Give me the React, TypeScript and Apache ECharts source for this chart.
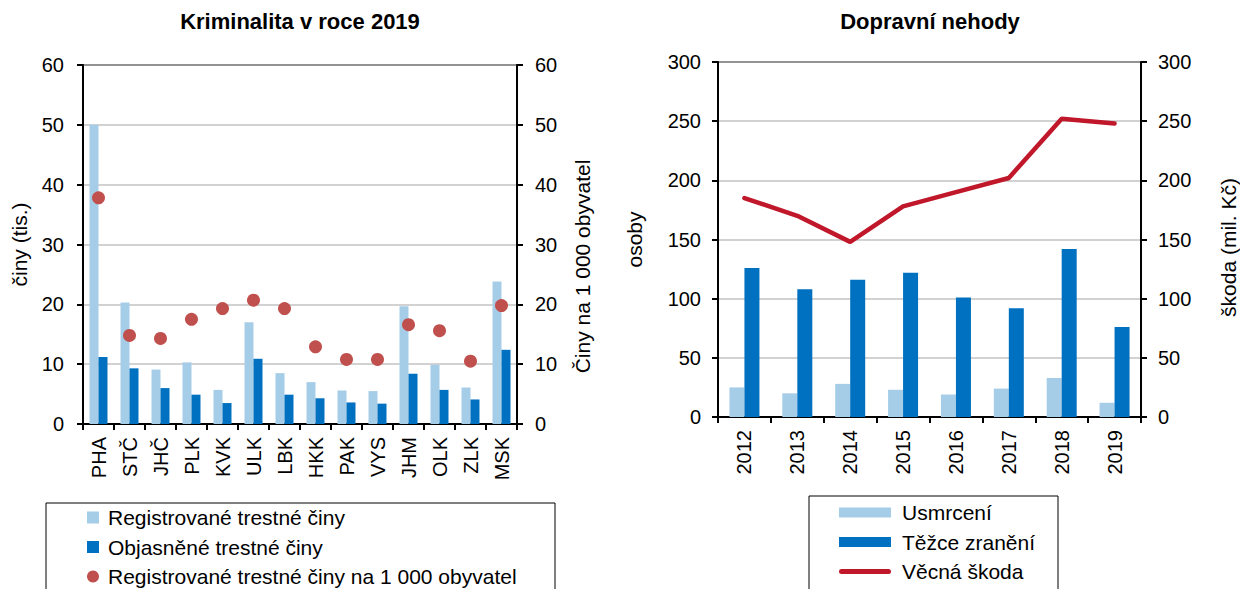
import React, { useEffect, useRef } from "react";
import * as echarts from "echarts";

const regions = ["PHA", "STČ", "JHČ", "PLK", "KVK", "ULK", "LBK", "HKK", "PAK", "VYS", "JHM", "OLK", "ZLK", "MSK"];
const registered = [50.0, 20.3, 9.1, 10.3, 5.7, 17.0, 8.5, 7.0, 5.6, 5.5, 19.7, 9.9, 6.1, 23.8];
const solved = [11.2, 9.3, 6.0, 4.9, 3.5, 10.9, 4.9, 4.3, 3.6, 3.4, 8.4, 5.7, 4.1, 12.4];
const per1000 = [37.8, 14.8, 14.3, 17.5, 19.3, 20.7, 19.3, 12.9, 10.8, 10.8, 16.6, 15.6, 10.5, 19.8];

const years = ["2012", "2013", "2014", "2015", "2016", "2017", "2018", "2019"];
const killed = [25, 20, 28, 23, 19, 24, 33, 12];
const injured = [126, 108, 116, 122, 101, 92, 142, 76];
const damage = [185, 170, 148, 178, 190, 202, 252, 248];

const FONT = "'Liberation Sans', Arial, Helvetica, sans-serif";
const LIGHT = "#a6cde8";
const DARK = "#0070c0";
const RED_DOT = "#c0504d";
const RED_LINE = "#c0182a";
const LINE_ICON = "path://M2.5,0 L49.5,0 A2.5,2.5 0 0 1 49.5,5 L2.5,5 A2.5,2.5 0 0 1 2.5,0 Z";

const axisLineStyle = { show: true, lineStyle: { color: "#000", width: 2 } };
const tickStyle = { show: true, length: 6, lineStyle: { color: "#000", width: 2 } };
const splitStyle = { show: true, lineStyle: { color: "#c3c3c3", width: 1.5 } };

function valueAxis(gridIndex: number, max: number, interval: number, name: string, pos: "left" | "right", nameGap: number, margin: number, split: boolean, padding?: number[]) {
  return {
    type: "value",
    gridIndex,
    position: pos,
    min: 0,
    max,
    interval,
    name,
    nameLocation: "middle",
    nameRotate: 90,
    nameGap,
    nameTextStyle: { color: "#000", fontSize: 21, fontFamily: FONT, padding: padding || [0, 0, 0, 0] },
    axisLine: axisLineStyle,
    axisTick: tickStyle,
    axisLabel: { color: "#000", fontSize: 20, fontFamily: FONT, margin },
    splitLine: split ? splitStyle : { show: false },
  };
}

function catAxis(gridIndex: number, data: string[]) {
  return {
    type: "category",
    gridIndex,
    data,
    axisLine: axisLineStyle,
    axisTick: { ...tickStyle, alignWithLabel: false },
    axisLabel: { color: "#000", fontSize: 20, fontFamily: FONT, rotate: 90, margin: 13, interval: 0 },
    splitLine: { show: false },
  };
}

export default function App() {
  const ref = useRef<HTMLDivElement>(null);
  useEffect(() => {
    if (!ref.current) return;
    const chart = echarts.init(ref.current, null, { renderer: "svg" });
    const option: any = {
      animation: false,
      backgroundColor: "#fff",
      textStyle: { fontFamily: FONT },
      grid: [
        { left: 83, right: 723, top: 65, bottom: 165, show: true, borderColor: "#000", borderWidth: 2, containLabel: false },
        { left: 718, right: 99, top: 62, bottom: 172, show: true, borderColor: "#000", borderWidth: 2, containLabel: false },
      ],
      xAxis: [catAxis(0, regions), catAxis(1, years)],
      yAxis: [
        valueAxis(0, 60, 10, "činy (tis.)", "left", 53, 19, true),
        valueAxis(0, 60, 10, "Činy na 1 000 obyvatel", "right", 55, 18, false, [0, 44, 0, 0]),
        valueAxis(1, 300, 50, "osoby", "left", 73, 17, true),
        valueAxis(1, 300, 50, "škoda (mil. Kč)", "right", 77, 17, false, [0, 16, 0, 0]),
      ],
      legend: [
        {
          orient: "vertical",
          left: 87,
          top: 507,
          padding: 0,
          itemWidth: 12,
          itemHeight: 12,
          itemGap: 8.5,
          textStyle: { color: "#000", fontSize: 21, fontFamily: FONT, padding: [0, 0, 0, 4] },
          data: [
            { name: "Registrované trestné činy", icon: "rect" },
            { name: "Objasněné trestné činy", icon: "rect" },
            { name: "Registrované trestné činy na 1 000 obyvatel", icon: "circle" },
          ],
        },
        {
          orient: "vertical",
          left: 839,
          top: 502,
          padding: 0,
          itemWidth: 52,
          itemHeight: 10,
          itemGap: 8.5,
          symbolKeepAspect: true,
          textStyle: { color: "#000", fontSize: 21, fontFamily: FONT, padding: [0, 0, 0, 6] },
          data: [
            { name: "Usmrcení", icon: "rect" },
            { name: "Těžce zranění", icon: "rect" },
            { name: "Věcná škoda", icon: LINE_ICON, itemStyle: { color: RED_LINE, borderWidth: 0 } },
          ],
        },
      ],
      graphic: [
        { type: "text", x: 300, y: 10, style: { text: "Kriminalita v roce 2019", fill: "#000", font: `bold 22px ${FONT}`, textAlign: "center", textVerticalAlign: "top" } },
        { type: "text", x: 930, y: 10, style: { text: "Dopravní nehody", fill: "#000", font: `bold 22px ${FONT}`, textAlign: "center", textVerticalAlign: "top" } },
        { type: "rect", shape: { x: 46, y: 503, width: 509, height: 100 }, style: { fill: "none", stroke: "#000", lineWidth: 1 } },
        { type: "rect", shape: { x: 809, y: 496, width: 249, height: 100 }, style: { fill: "none", stroke: "#000", lineWidth: 1 } },
      ],
      series: [
        { name: "Registrované trestné činy", type: "bar", xAxisIndex: 0, yAxisIndex: 0, data: registered, barWidth: 9, barGap: "0%", itemStyle: { color: LIGHT } },
        { name: "Objasněné trestné činy", type: "bar", xAxisIndex: 0, yAxisIndex: 0, data: solved, barWidth: 9, barGap: "0%", itemStyle: { color: DARK } },
        { name: "Registrované trestné činy na 1 000 obyvatel", type: "scatter", xAxisIndex: 0, yAxisIndex: 1, data: per1000, symbol: "circle", symbolSize: 13, itemStyle: { color: RED_DOT, opacity: 1 } },
        { name: "Usmrcení", type: "bar", xAxisIndex: 1, yAxisIndex: 2, data: killed, barWidth: 15, barGap: "0%", itemStyle: { color: LIGHT } },
        { name: "Těžce zranění", type: "bar", xAxisIndex: 1, yAxisIndex: 2, data: injured, barWidth: 15, barGap: "0%", itemStyle: { color: DARK } },
        { name: "Věcná škoda", type: "line", xAxisIndex: 1, yAxisIndex: 3, data: damage, symbol: "none", showSymbol: false, lineStyle: { color: RED_LINE, width: 4.5, cap: "round" }, itemStyle: { color: RED_LINE } },
      ],
    };
    chart.setOption(option);
    return () => chart.dispose();
  }, []);
  return <div ref={ref} style={{ position: "fixed", left: 0, top: 0, width: 1240, height: 589 }} />;
}
